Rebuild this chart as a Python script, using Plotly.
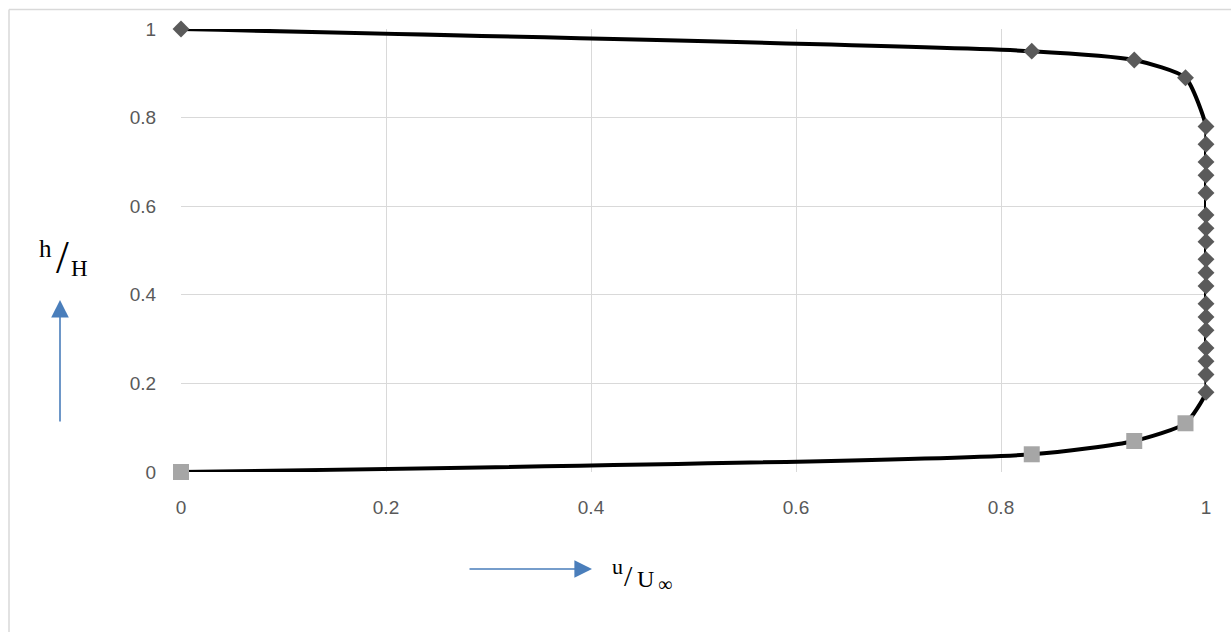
import plotly.graph_objects as go

# Velocity profile data: u/U∞ versus h/H
u_upper = [0, 0.83, 0.93, 0.98] + [1.0] * 18
h_upper = [1.0, 0.95, 0.93, 0.89, 0.78, 0.74, 0.70, 0.67, 0.63, 0.58, 0.55,
           0.52, 0.48, 0.45, 0.42, 0.38, 0.35, 0.32, 0.28, 0.25, 0.22, 0.18]
u_lower = [0.98, 0.93, 0.83, 0]
h_lower = [0.11, 0.07, 0.04, 0.0]

tick_vals = [0, 0.2, 0.4, 0.6, 0.8, 1.0]
tick_text = ["0", "0.2", "0.4", "0.6", "0.8", "1"]

W, H = 1231, 632
ML, MR, MT, MB = 181, 25, 29, 160
PW, PH = W - ML - MR, H - MT - MB


def px(x):
    return (x - ML) / PW


def py(y):
    return (H - MB - y) / PH


fig = go.Figure()

# smoothed profile curve through all points
fig.add_trace(go.Scatter(
    x=u_upper + u_lower, y=h_upper + h_lower,
    mode="lines",
    line=dict(color="black", width=4, shape="spline", smoothing=0.6),
    cliponaxis=False, showlegend=False, hoverinfo="skip"))

fig.add_trace(go.Scatter(
    x=u_upper, y=h_upper, mode="markers",
    marker=dict(symbol="diamond", size=13, color="#5a5a5a"),
    cliponaxis=False, showlegend=False))

fig.add_trace(go.Scatter(
    x=u_lower, y=h_lower, mode="markers",
    marker=dict(symbol="square", size=16, color="#a6a6a6"),
    cliponaxis=False, showlegend=False))

axis_common = dict(
    range=[0, 1], tickvals=tick_vals, ticktext=tick_text,
    showgrid=True, gridcolor="#d9d9d9", gridwidth=1.3,
    zeroline=False, showline=False,
    ticks="outside", tickcolor="rgba(0,0,0,0)",
    tickfont=dict(family="Liberation Sans", size=19, color="#595959"),
)
fig.update_xaxes(**axis_common, ticklen=18)
fig.update_yaxes(**axis_common, ticklen=20)

serif = "Liberation Serif"
annotations = [
    # h/H label
    dict(x=px(45.5), y=py(248), text="h", font=dict(family=serif, size=25, color="black")),
    dict(x=px(62), y=py(257), text="/", font=dict(family=serif, size=46, color="black")),
    dict(x=px(79.5), y=py(268), text="H", font=dict(family=serif, size=23, color="black")),
    # u/U∞ label
    dict(x=px(617.5), y=py(566), text="u", font=dict(family=serif, size=22, color="black")),
    dict(x=px(628), y=py(575), text="/", font=dict(family=serif, size=30, color="black")),
    dict(x=px(645), y=py(579), text="U", font=dict(family=serif, size=24, color="black")),
    dict(x=px(664.5), y=py(584), text="∞", font=dict(family=serif, size=20, color="black")),
]
for a in annotations:
    a.update(xref="paper", yref="paper", showarrow=False,
             xanchor="center", yanchor="middle")

# blue direction arrows
annotations.append(dict(
    xref="paper", yref="paper", x=px(60), y=py(300), ax=0, ay=123,
    text="", showarrow=True, arrowhead=2, arrowsize=2.2, arrowwidth=1.6,
    arrowcolor="#4a7ebb"))
annotations.append(dict(
    xref="paper", yref="paper", x=px(592), y=py(569), ax=-124, ay=0,
    text="", showarrow=True, arrowhead=2, arrowsize=2.2, arrowwidth=1.6,
    arrowcolor="#4a7ebb"))

# chart frame (top and left edges)
shapes = [
    dict(type="line", xref="paper", yref="paper",
         x0=px(9), x1=px(1240), y0=py(9.5), y1=py(9.5),
         line=dict(color="#d9d9d9", width=1.5), layer="below"),
    dict(type="line", xref="paper", yref="paper",
         x0=px(9), x1=px(9), y0=py(9.5), y1=py(640),
         line=dict(color="#d9d9d9", width=1.5), layer="below"),
]

fig.update_layout(
    width=W, height=H,
    margin=dict(l=ML, r=MR, t=MT, b=MB, pad=0),
    paper_bgcolor="white", plot_bgcolor="white",
    annotations=annotations, shapes=shapes,
    showlegend=False,
)

fig.write_html("out.html")
